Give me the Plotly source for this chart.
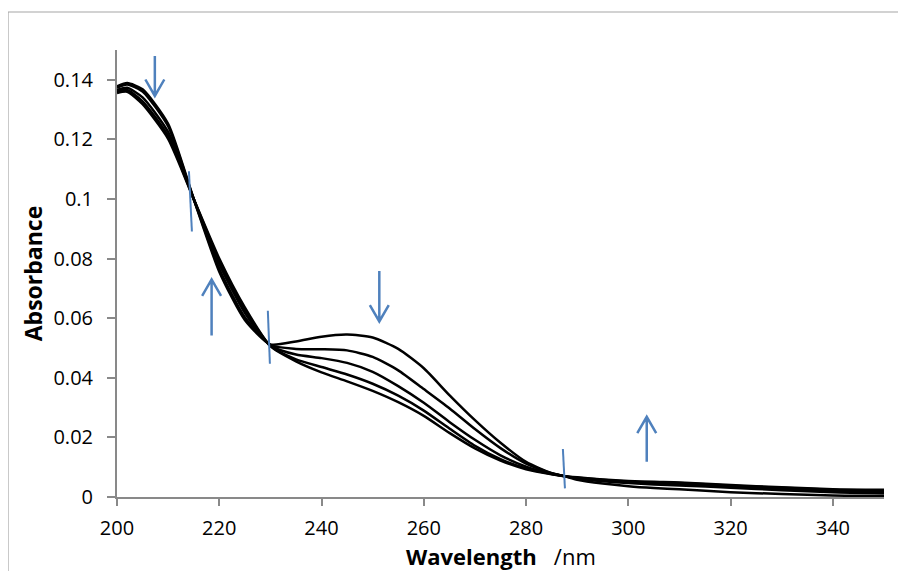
import plotly.graph_objects as go

wavelength = [200, 202, 205, 210, 215, 220, 225, 230, 235, 240, 245, 250, 255, 260, 265,
              270, 275, 280, 285, 287.5, 290, 295, 300, 305, 310, 320, 330, 340, 350]

abs_1 = [0.1378, 0.1389, 0.1368, 0.1252, 0.1000, 0.0756, 0.0594, 0.0512, 0.0522, 0.0538,
         0.0545, 0.0535, 0.0497, 0.0432, 0.0342, 0.0258, 0.0182, 0.0118, 0.0080, 0.0070,
         0.0058, 0.0045, 0.0036, 0.0030, 0.0026, 0.0016, 0.0010, 0.0005, 0.0004]
abs_2 = [0.1374, 0.1384, 0.1361, 0.1244, 0.1000, 0.0766, 0.0603, 0.0510, 0.0497, 0.0496,
         0.0492, 0.0470, 0.0425, 0.0362, 0.0298, 0.0228, 0.0164, 0.0112, 0.0080, 0.0070,
         0.0062, 0.0053, 0.0047, 0.0042, 0.0039, 0.0031, 0.0023, 0.0016, 0.0013]
abs_3 = [0.1366, 0.1373, 0.1341, 0.1225, 0.1000, 0.0782, 0.0618, 0.0508, 0.0478, 0.0466,
         0.0450, 0.0420, 0.0372, 0.0316, 0.0252, 0.0192, 0.0140, 0.0102, 0.0078, 0.0070,
         0.0064, 0.0056, 0.0050, 0.0046, 0.0044, 0.0035, 0.0028, 0.0020, 0.0017]
abs_4 = [0.1361, 0.1366, 0.1328, 0.1212, 0.1000, 0.0792, 0.0628, 0.0507, 0.0462, 0.0436,
         0.0411, 0.0380, 0.0340, 0.0290, 0.0230, 0.0172, 0.0127, 0.0096, 0.0077, 0.0070,
         0.0065, 0.0058, 0.0052, 0.0049, 0.0047, 0.0038, 0.0031, 0.0024, 0.0021]
abs_5 = [0.1356, 0.1360, 0.1318, 0.1202, 0.1000, 0.0800, 0.0636, 0.0506, 0.0455, 0.0418,
         0.0388, 0.0356, 0.0318, 0.0272, 0.0215, 0.0163, 0.0122, 0.0093, 0.0076, 0.0070,
         0.0066, 0.0059, 0.0054, 0.0051, 0.0049, 0.0040, 0.0033, 0.0026, 0.0024]

series = [abs_1, abs_2, abs_3, abs_4, abs_5]

x_ticks = [200, 220, 240, 260, 280, 300, 320, 340]
y_ticks = [0, 0.02, 0.04, 0.06, 0.08, 0.1, 0.12, 0.14]
y_tick_text = ["0", "0.02", "0.04", "0.06", "0.08", "0.1", "0.12", "0.14"]

# annotation marks: (x, y_tail, y_tip) for arrows; (x0, y0, x1, y1) for isosbestic ticks
arrows = [(207.4, 0.148, 0.1346), (218.5, 0.0542, 0.0730),
          (251.3, 0.0758, 0.0589), (303.6, 0.0118, 0.0269)]
iso_marks = [(214.07, 0.1093, 214.65, 0.0891), (229.5, 0.0625, 229.9, 0.0447),
             (287.2, 0.0161, 287.6, 0.0029)]

BLUE = "#4F81BD"
GRAY = "#898989"
FONT = "Open Sans"

fig = go.Figure()
for s in series:
    fig.add_trace(go.Scatter(x=wavelength, y=s, mode="lines",
                             line=dict(color="black", width=2.5, shape="spline", smoothing=0.6),
                             showlegend=False, hoverinfo="skip"))

shapes = []
hw, hh = 1.85, 0.0055
for x, yt, yp in arrows:
    d = 1 if yp > yt else -1
    path = (f"M {x},{yt} L {x},{yp} M {x - hw},{yp - d * hh} L {x},{yp} L {x + hw},{yp - d * hh}")
    shapes.append(dict(type="path", path=path, xref="x", yref="y",
                       line=dict(color=BLUE, width=2.5)))
for x0, y0, x1, y1 in iso_marks:
    shapes.append(dict(type="line", x0=x0, y0=y0, x1=x1, y1=y1, xref="x", yref="y",
                       line=dict(color=BLUE, width=2)))
# outer chart border
shapes.append(dict(type="rect", xref="paper", yref="paper", x0=-0.1421, y0=-0.25,
                   x1=1.05, y1=1.085, line=dict(color="#A6A6A6", width=1.2),
                   fillcolor="rgba(0,0,0,0)", layer="below"))

fig.update_layout(
    width=898, height=563,
    margin=dict(l=109, r=22, t=42, b=74),
    paper_bgcolor="white", plot_bgcolor="white",
    font=dict(family=FONT, color="black", size=20),
    shapes=shapes,
    annotations=[dict(text="<b>Wavelength</b>   /nm", xref="paper", yref="paper",
                      x=0.5, y=-0.1320, xanchor="center", yanchor="middle",
                      showarrow=False, font=dict(family=FONT, size=22))],
    xaxis=dict(range=[200, 350], tickvals=x_ticks, showgrid=False, zeroline=False,
               showline=True, linecolor=GRAY, linewidth=2,
               ticks="outside", ticklen=7, tickcolor=GRAY, tickwidth=1.5,
               ticklabelstandoff=5,
               tickfont=dict(family=FONT, size=20)),
    yaxis=dict(range=[0, 0.15], tickvals=y_ticks, ticktext=y_tick_text, showgrid=False,
               zeroline=False, showline=True, linecolor=GRAY, linewidth=2,
               ticks="outside", ticklen=8, tickcolor=GRAY, tickwidth=1.5,
               ticklabelstandoff=10,
               tickfont=dict(family=FONT, size=20),
               title=dict(text="<b>Absorbance</b>", font=dict(family=FONT, size=23),
                          standoff=4)),
)

fig.write_html("out.html")
